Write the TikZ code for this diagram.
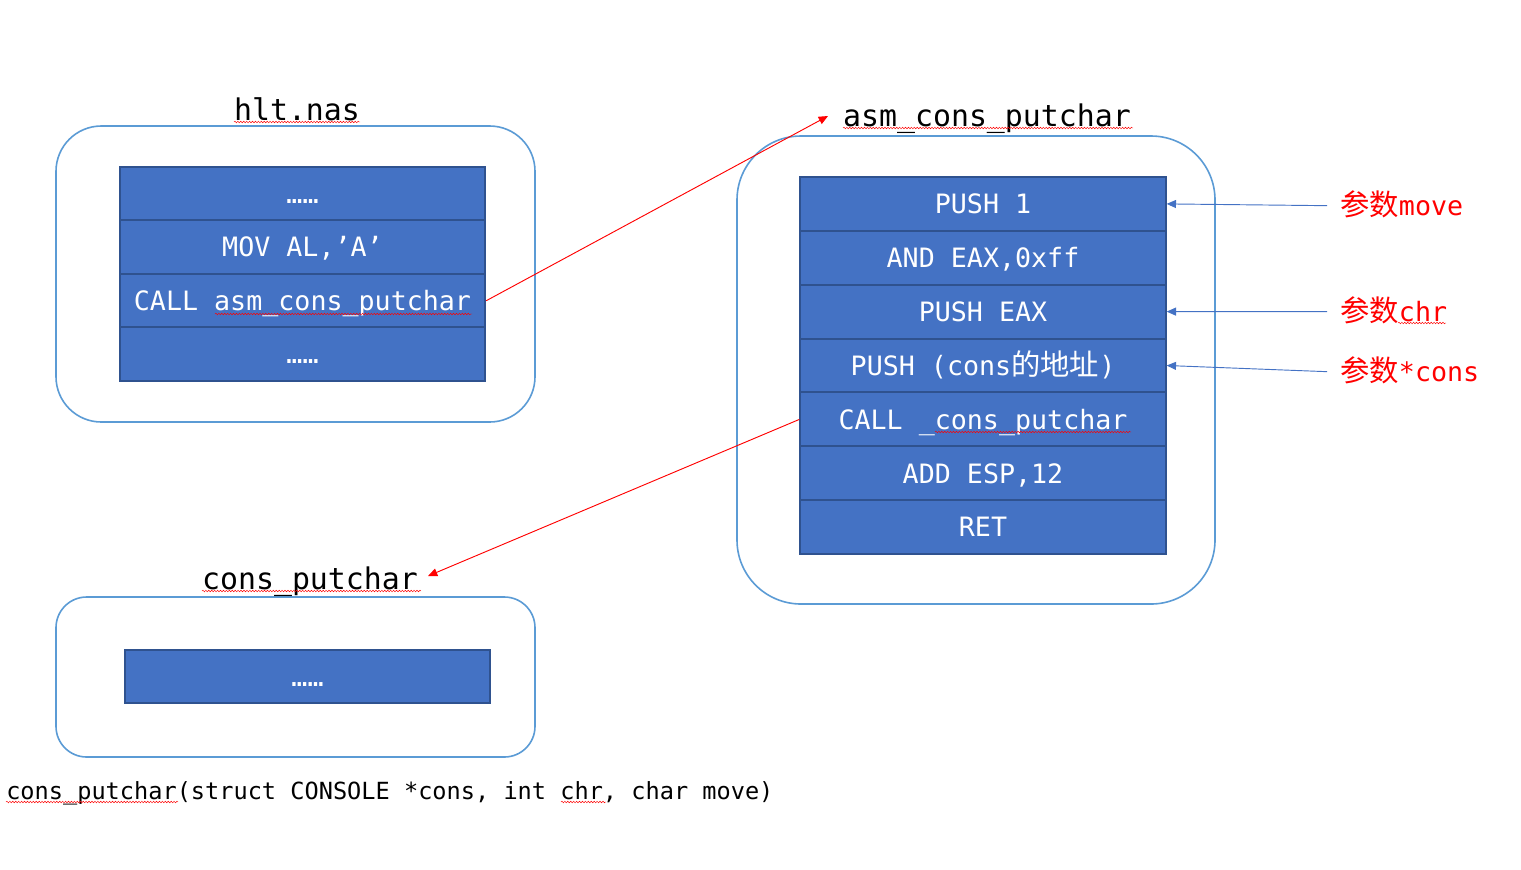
\documentclass[tikz,border=0pt]{standalone}
\usepackage{fontspec}
\setmonofont{DejaVu Sans Mono}
\newfontfamily\cjk[Scale=1.1]{Noto Sans CJK SC}
\usetikzlibrary{arrows.meta,decorations.pathmorphing}
\definecolor{outerblue}{HTML}{5B9BD5}
\definecolor{boxfill}{HTML}{4472C4}
\definecolor{boxline}{HTML}{2F528F}
\definecolor{arrowblue}{HTML}{4472C4}
\begin{document}
\begin{tikzpicture}[x=0.75pt,y=-0.75pt,
  outer/.style={draw=outerblue,line width=1.2pt},
  row/.style={draw=boxline,fill=boxfill,line width=1.5pt,text=white,
    minimum width=274pt,minimum height=40.4pt,inner sep=0pt,
    font=\ttfamily\fontsize{20}{24}\selectfont,text height=14.6pt,text depth=0pt},
  title/.style={anchor=base,inner sep=0pt,font=\ttfamily\fontsize{22.4}{27}\selectfont},
  lbl/.style={anchor=base west,inner sep=0pt,text=red,
    font=\ttfamily\fontsize{20}{24}\selectfont,text height=16pt,text depth=2pt},
  barrow/.style={draw=arrowblue,line width=0.7pt,-{Triangle[length=7pt,width=6pt]}},
  rarrow/.style={draw=red,line width=0.7pt,-{Triangle[length=7pt,width=6pt]}},
  spell/.style={draw=red,line width=0.35pt,decorate,
    decoration={snake,segment length=2.2pt,amplitude=0.6pt}}]
\useasboundingbox (0,0) rectangle (1521,869);

% outer rounded frames
\draw[outer,rounded corners=34pt] (56,126) rectangle (535,422);
\draw[outer,rounded corners=48pt] (737,136) rectangle (1215,604);
\draw[outer,rounded corners=23pt] (56,597) rectangle (535,757);

% titles
\node[title] (t1) at (297,120) {hlt.nas};
\node[title] (t2) at (987,126) {asm\_cons\_putchar};
\node[title] (t3) at (310,589) {cons\_putchar};

% hlt.nas stack
\node[row] (h1) at (302.5,193.75) {……};
\node[row] (h2) at (302.5,247.25) {MOV AL,’A’};
\node[row] (h3) at (302.5,300.75) {CALL asm\_cons\_putchar};
\node[row] (h4) at (302.5,354.25) {……};

% asm_cons_putchar stack
\node[row] (a1) at (983,203.9) {PUSH 1};
\node[row] (a2) at (983,257.8) {AND EAX,0xff};
\node[row] (a3) at (983,311.6) {PUSH EAX};
\node[row] (a4) at (983,365.5) {PUSH (cons{\cjk 的地址})};
\node[row] (a5) at (983,419.4) {CALL \_cons\_putchar};
\node[row] (a6) at (983,473.3) {ADD ESP,12};
\node[row] (a7) at (983,527.1) {RET};

% cons_putchar stack
\node[row] (c1) at (307.5,676.5) {……};

% labels
\node[lbl] (lm) at (1340,215) {{\cjk 参数}move};
\node[lbl] (lc) at (1340,321) {{\cjk 参数}chr};
\node[lbl] (lp) at (1340,381) {{\cjk 参数}*cons};

% bottom signature
\node[anchor=base west,inner sep=0pt,font=\ttfamily\fontsize{17.7}{21}\selectfont] (sig) at (6,799)
  {cons\_putchar(struct CONSOLE *cons, int chr, char move)};

% connectors
\coordinate (e1) at (828,116);
\coordinate (e2) at (428,576);
\draw[rarrow] (h3.east) -- (e1);
\draw[rarrow] (a5.west) -- (e2);
\draw[barrow] ([xshift=-9.75pt]lm.west) -- (a1.east);
\draw[barrow] ([xshift=-9.75pt]lc.west) -- (a3.east);
\draw[barrow] ([xshift=-9.75pt]lp.west) -- (a4.east);

% spell-check squiggles
\draw[spell] (234,122) -- (360,122);
\draw[spell] (843,128) -- (1133,128);
\draw[spell] (215,314) -- (472,314);
\draw[spell] (935,432) -- (1131,432);
\draw[spell] (202,591) -- (421,591);
\draw[spell] (1398,323) -- (1446,323);
\draw[spell] (6,802) -- (178,802);
\draw[spell] (561,802) -- (606,802);
\end{tikzpicture}
\end{document}
